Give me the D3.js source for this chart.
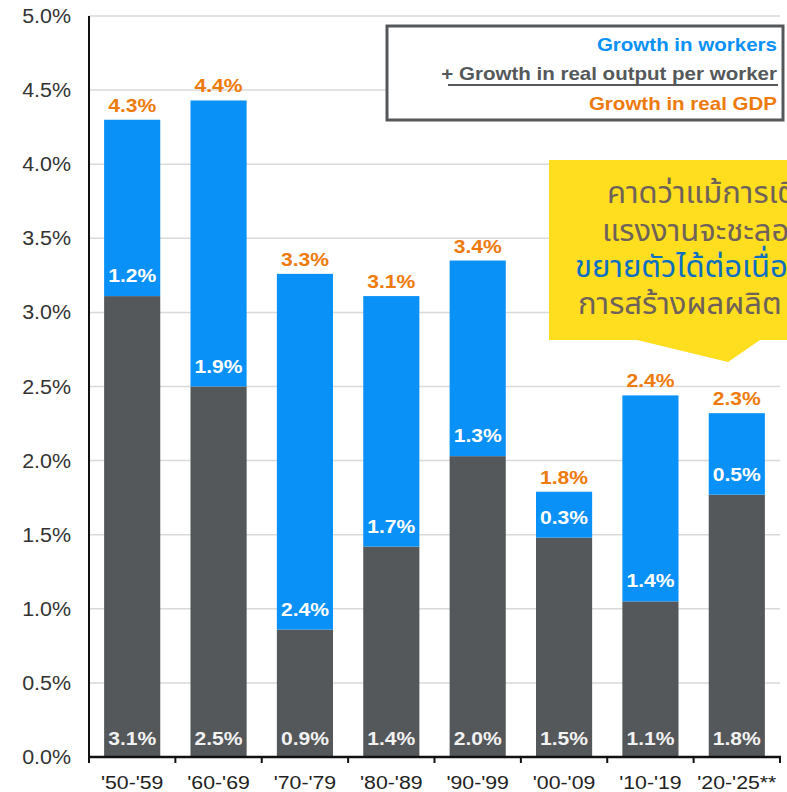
<!DOCTYPE html>
<html><head><meta charset="utf-8">
<script src="https://cdn.jsdelivr.net/npm/d3@7"></script>
<style>
html,body{margin:0;padding:0;background:#fff;}
svg{display:block;}
</style></head>
<body>
<svg id="c" width="787" height="792"></svg>
<script>
const categories = ["'50-'59","'60-'69","'70-'79","'80-'89","'90-'99","'00-'09","'10-'19","'20-'25**"];
const outputPerWorker = [3.11, 2.50, 0.86, 1.42, 2.03, 1.48, 1.05, 1.77];
const workers = [1.19, 1.93, 2.40, 1.69, 1.32, 0.31, 1.39, 0.55];
const outputLabels = ["3.1%","2.5%","0.9%","1.4%","2.0%","1.5%","1.1%","1.8%"];
const workerLabels = ["1.2%","1.9%","2.4%","1.7%","1.3%","0.3%","1.4%","0.5%"];
const gdpLabels = ["4.3%","4.4%","3.3%","3.1%","3.4%","1.8%","2.4%","2.3%"];
const yTicks = [0,0.5,1,1.5,2,2.5,3,3.5,4,4.5,5];
const legendLines = ["Growth in workers","+ Growth in real output per worker","Growth in real GDP"];
const calloutLines = ["คาดว่าแม้การเติ","แรงงานจะชะลอตั","ขยายตัวได้ต่อเนื่อง","การสร้างผลผลิต"];

const BLUE="#0A91F7", DARK="#54585A", ORANGE="#EE7A0C";
const svg = d3.select("#c");
const m = {l:89, r:780, t:16, b:757};
const x = d3.scaleBand().domain(categories).range([m.l, m.r]).paddingInner(0.35).paddingOuter(0.175);
const y = d3.scaleLinear().domain([0,5]).range([m.b, m.t]);
const FONT = "'Liberation Sans', Arial, sans-serif";

function stext(g, px, py, sx, txt){
  return g.append("text").attr("transform", `translate(${px},${py}) scale(${sx},1)`).text(txt);
}

// gridlines
svg.append("g").selectAll("line").data(yTicks.filter(d=>d>0)).join("line")
  .attr("x1", m.l).attr("x2", m.r).attr("y1", d=>y(d)).attr("y2", d=>y(d))
  .attr("stroke","#d9d9d9").attr("stroke-width",1.5);

// y axis labels
const yg = svg.append("g").attr("font-family",FONT).attr("font-size",19.5).attr("fill","#333").attr("text-anchor","end");
yTicks.forEach(d=>{ stext(yg, 71, y(d)+7, 1.1, d.toFixed(1)+"%"); });

// bars
const bars = svg.append("g");
const labG = svg.append("g").attr("font-family",FONT).attr("font-weight","bold").attr("font-size",18.5).attr("text-anchor","middle");
function lbl(cx, yy, txt, col){ stext(labG, cx, yy, 1.14, txt).attr("fill", col); }
categories.forEach((c,i)=>{
  const x0 = x(c), w = x.bandwidth();
  bars.append("rect").attr("x",x0).attr("width",w)
    .attr("y", y(outputPerWorker[i])).attr("height", y(0)-y(outputPerWorker[i])).attr("fill",DARK);
  const tot = outputPerWorker[i]+workers[i];
  bars.append("rect").attr("x",x0).attr("width",w)
    .attr("y", y(tot)).attr("height", y(outputPerWorker[i])-y(tot)).attr("fill",BLUE);
  const cx = x0 + w/2;
  lbl(cx, y(0)-12, outputLabels[i], "#f2f2f2");
  lbl(cx, y(outputPerWorker[i])-14, workerLabels[i], "#fff");
  lbl(cx, y(tot)-8, gdpLabels[i], ORANGE);
});

// axes lines
svg.append("line").attr("x1",m.l).attr("x2",m.l).attr("y1",m.t).attr("y2",m.b+1).attr("stroke","#111").attr("stroke-width",2);
svg.append("line").attr("x1",m.l-1).attr("x2",m.r+1).attr("y1",m.b).attr("y2",m.b).attr("stroke","#111").attr("stroke-width",2.5);
const tickXs = d3.range(categories.length+1).map(i=>m.l + i*(m.r-m.l)/categories.length);
svg.append("g").selectAll("line").data(tickXs).join("line")
  .attr("x1",d=>d).attr("x2",d=>d).attr("y1",m.b).attr("y2",m.b+6).attr("stroke","#111").attr("stroke-width",2);
const xg = svg.append("g").attr("font-family",FONT).attr("font-size",18.5).attr("fill","#222").attr("text-anchor","middle");
categories.forEach(d=>{ stext(xg, x(d)+x.bandwidth()/2, 789, 1.15, d); });

// legend
const lg = svg.append("g");
lg.append("rect").attr("x",387).attr("y",26).attr("width",396).attr("height",94)
  .attr("fill","#fff").attr("stroke","#54585A").attr("stroke-width",3);
const lcol = [BLUE, DARK, ORANGE];
const lt = lg.append("g").attr("font-family",FONT).attr("font-weight","bold").attr("font-size",18).attr("text-anchor","end");
legendLines.forEach((t,i)=>{ stext(lt, 777, 50.5+i*29.5, 1.14, t).attr("fill", lcol[i]); });
lg.append("line").attr("x1",448).attr("x2",778).attr("y1",85).attr("y2",85).attr("stroke",DARK).attr("stroke-width",2);

// callout
const cg = svg.append("g");
cg.append("path").attr("d","M549,160 L787,160 L787,340 L760,340 L728,362 L637,340 L549,340 Z").attr("fill","#FFDD1F");
const ccol = ["#6E625A","#6E625A","#0A6FC2","#6E625A"];
const cx0 = [607, 602, 575, 578];
const cy0 = [203, 241, 277, 314];
const ct = cg.append("g").attr("font-family","'Noto Sans Thai','Noto Sans','Noto Sans Thai Looped',sans-serif").attr("font-size",31);
calloutLines.forEach((t,i)=>{ stext(ct, cx0[i], cy0[i], 1.0, t).attr("fill", ccol[i]); });
</script>
</body></html>
